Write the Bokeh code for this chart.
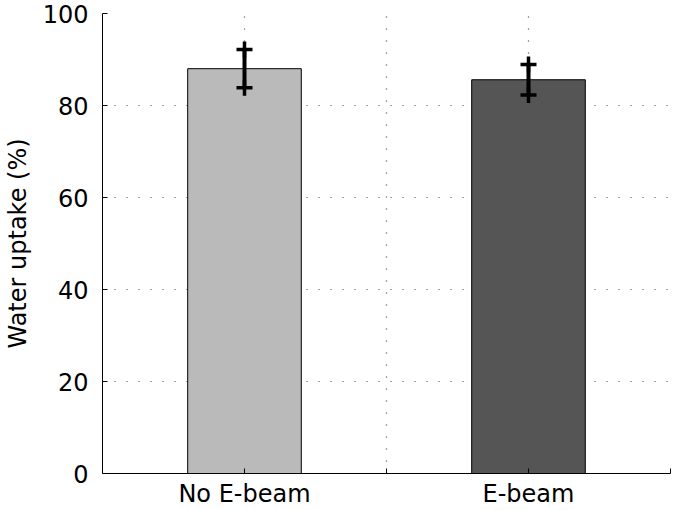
from bokeh.plotting import figure
from bokeh.models import ColumnDataSource, FixedTicker, Range1d
from bokeh.embed import file_html
from bokeh.resources import INLINE

categories = ["No E-beam", "E-beam"]
uptake = [88.0, 85.6]
err = [4.15, 3.3]
colors = ["#bababa", "#555555"]
y_ticks = [0, 20, 40, 60, 80, 100]

xpos = [i + 1 for i in range(len(categories))]
src = ColumnDataSource(dict(
    x=xpos, top=uptake, color=colors,
    upper=[u + e for u, e in zip(uptake, err)],
    lower=[u - e for u, e in zip(uptake, err)],
))

FONT = "DejaVu Sans"
p = figure(width=672, height=510, output_backend="svg", toolbar_location=None,
           x_range=Range1d(0.5, len(categories) + 0.5), y_range=Range1d(0, 100),
           min_border_left=100, min_border_right=2, min_border_top=13, min_border_bottom=0)
p.outline_line_color = None
p.background_fill_color = "white"

p.vbar(x="x", top="top", width=0.4, fill_color="color", line_color="black",
       line_width=1, source=src)
p.segment(x0="x", y0="lower", x1="x", y1="upper", line_color="black",
          line_width=4, source=src)
p.scatter(x="x", y="upper", marker="cross", size=16, line_color="black",
          line_width=3.5, source=src)
p.scatter(x="x", y="lower", marker="cross", size=16, line_color="black",
          line_width=3.5, source=src)

# axes
xt = [0.5 * k for k in range(2, 2 * len(categories) + 2)]
p.xaxis.ticker = FixedTicker(ticks=xt)
overrides = {t: "" for t in xt}
for xi, c in zip(xpos, categories):
    overrides[xi] = c
p.xaxis.major_label_overrides = overrides
p.yaxis.ticker = FixedTicker(ticks=y_ticks)
p.yaxis.axis_label = "Water uptake (%)"

for ax in (p.xaxis[0], p.yaxis[0]):
    ax.axis_line_color = "black"
    ax.axis_line_width = 1
    ax.major_tick_in = 5
    ax.major_tick_out = 0
    ax.minor_tick_line_color = None
    ax.major_tick_line_color = "black"
    ax.major_label_text_font = FONT
    ax.major_label_text_font_size = "24px"
    ax.major_label_text_color = "black"
    ax.axis_label_text_font = FONT
    ax.axis_label_text_font_size = "24px"
    ax.axis_label_text_font_style = "normal"
    ax.axis_label_text_color = "black"
p.yaxis.major_label_standoff = 14
p.xaxis.major_label_standoff = 6
p.yaxis.axis_label_standoff = 8

p.xgrid.ticker = FixedTicker(ticks=xt)
for g in (p.xgrid[0], p.ygrid[0]):
    g.grid_line_color = "#444444"
    g.grid_line_dash = "1 11"
    g.grid_line_width = 1.2

open("out.html", "w").write(file_html(p, INLINE))
